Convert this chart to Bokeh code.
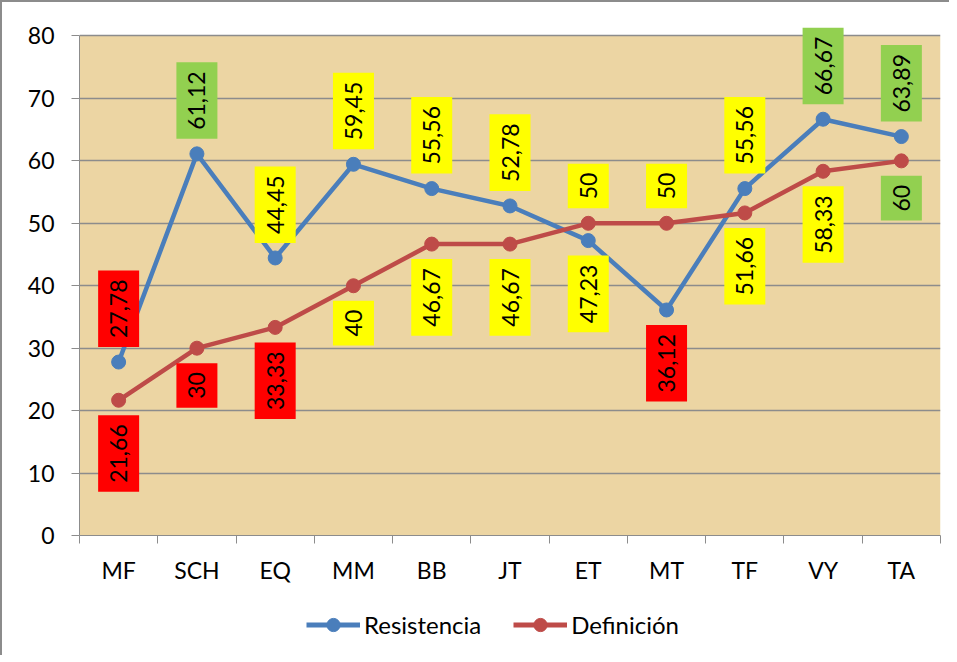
import math
from bokeh.plotting import figure
from bokeh.layouts import column
from bokeh.models import (ColumnDataSource, FixedTicker, Legend, LegendItem, Range1d)
from bokeh.core.properties import value
from bokeh.embed import file_html
from bokeh.resources import INLINE

categories = ["MF", "SCH", "EQ", "MM", "BB", "JT", "ET", "MT", "TF", "VY", "TA"]
resistencia = [27.78, 61.12, 44.45, 59.45, 55.56, 52.78, 47.23, 36.12, 55.56, 66.67, 63.89]
definicion = [21.66, 30, 33.33, 40, 46.67, 46.67, 50, 50, 51.66, 58.33, 60]
y_ticks = [0, 10, 20, 30, 40, 50, 60, 70, 80]
series_names = ["Resistencia", "Definición"]

FONT = "Lato"
BLUE = "#4A7EBB"
RED = "#BE4B48"
GRID = "#8C8C8C"


def box_color(v):
    if v < 40:
        return "#FF0000"
    if v < 60:
        return "#FFFF00"
    return "#92D050"


def fmt(v):
    return f"{v:g}".replace(".", ",")


xs = [i + 0.5 for i in range(len(categories))]
y_lo, y_hi = y_ticks[0], y_ticks[-1]

p = figure(width=947, height=593, output_backend="svg", toolbar_location=None,
           x_range=Range1d(0, len(categories)), y_range=Range1d(y_lo, y_hi + 2),
           min_border_left=77, min_border_top=21, min_border_right=9, min_border_bottom=60)
p.background_fill_color = "white"
p.border_fill_color = "white"
p.outline_line_color = None

# parchment plot area (0..80 only)
bg = p.quad(left=0, right=len(categories), bottom=y_lo, top=y_hi,
            fill_color="#ECD5A3", line_color=None)
bg.level = "image"

# axes
p.xaxis.ticker = FixedTicker(ticks=xs, minor_ticks=list(range(len(categories) + 1)))
p.xaxis.major_label_overrides = {x: c for x, c in zip(xs, categories)}
p.xaxis.major_tick_out = 0
p.xaxis.major_tick_in = 0
p.xaxis.minor_tick_out = 8
p.xaxis.minor_tick_in = 0
p.xaxis.minor_tick_line_color = GRID
p.xaxis.axis_line_color = GRID
p.xaxis.major_label_standoff = 12
p.xaxis.major_label_text_font = FONT
p.xaxis.major_label_text_font_size = "23px"
p.xaxis.major_label_text_color = "black"

p.yaxis.ticker = FixedTicker(ticks=y_ticks, minor_ticks=[])
p.yaxis.bounds = (y_lo, y_hi)
p.yaxis.major_tick_out = 8
p.yaxis.major_tick_in = 0
p.yaxis.major_tick_line_color = GRID
p.yaxis.axis_line_color = GRID
p.yaxis.major_label_standoff = 17
p.yaxis.major_label_text_font = FONT
p.yaxis.major_label_text_font_size = "23px"
p.yaxis.major_label_text_color = "black"

p.xgrid.grid_line_color = None
p.ygrid.ticker = FixedTicker(ticks=y_ticks)
p.ygrid.grid_line_color = GRID
p.ygrid.grid_line_width = 1.5

# series
src_r = ColumnDataSource(dict(x=xs, y=resistencia))
src_d = ColumnDataSource(dict(x=xs, y=definicion))
p.line("x", "y", source=src_r, line_color=BLUE, line_width=4.5)
p.scatter("x", "y", source=src_r, size=14, fill_color=BLUE, line_color=BLUE)
p.line("x", "y", source=src_d, line_color=RED, line_width=4.5)
p.scatter("x", "y", source=src_d, size=14, fill_color=RED, line_color=RED)

# data labels
GAP = 15
above = dict(x=[], y=[], t=[], c=[])
below = dict(x=[], y=[], t=[], c=[])
for x, r, d in zip(xs, resistencia, definicion):
    hi, lo = (r, d) if r >= d else (d, r)
    above["x"].append(x); above["y"].append(hi); above["t"].append(fmt(hi)); above["c"].append(box_color(hi))
    below["x"].append(x); below["y"].append(lo); below["t"].append(fmt(lo)); below["c"].append(box_color(lo))

pad = dict(left=9, right=9, top=12, bottom=12)
p.text("x", "y", text="t", source=ColumnDataSource(above), angle=math.pi / 2,
       text_align="left", text_baseline="middle", y_offset=-GAP,
       text_font=value(FONT), text_font_size="23px", text_color="black",
       background_fill_color="c", padding=pad)
p.text("x", "y", text="t", source=ColumnDataSource(below), angle=math.pi / 2,
       text_align="right", text_baseline="middle", y_offset=GAP,
       text_font=value(FONT), text_font_size="23px", text_color="black",
       background_fill_color="c", padding=pad)

# legend strip
lg = figure(width=947, height=60, output_backend="svg", toolbar_location=None,
            x_axis_location=None, y_axis_location=None,
            x_range=Range1d(0, 1), y_range=Range1d(0, 1),
            min_border_left=0, min_border_right=0, min_border_top=0, min_border_bottom=0)
lg.outline_line_color = None
lg.xgrid.grid_line_color = None
lg.ygrid.grid_line_color = None
items = []
for name, col in zip(series_names, [BLUE, RED]):
    e = ColumnDataSource(dict(x=[-5], y=[-5]))
    l1 = lg.line("x", "y", source=e, line_color=col, line_width=5)
    s1 = lg.scatter("x", "y", source=e, size=14, fill_color=col, line_color=col)
    items.append(LegendItem(label=name, renderers=[l1, s1]))
legend = Legend(items=items, location=(227, 14), orientation="horizontal",
                label_text_font=FONT, label_text_font_size="24px", label_text_color="black",
                glyph_width=54, glyph_height=33, label_standoff=4, spacing=32,
                padding=0, margin=0, border_line_color=None, background_fill_alpha=0)
lg.add_layout(legend, "center")

layout = column(p, lg, spacing=0)
layout.styles = {"border-left": "2px solid #8C8C8C", "border-top": "2px solid #8C8C8C"}

open("out.html", "w").write(file_html(layout, INLINE))
